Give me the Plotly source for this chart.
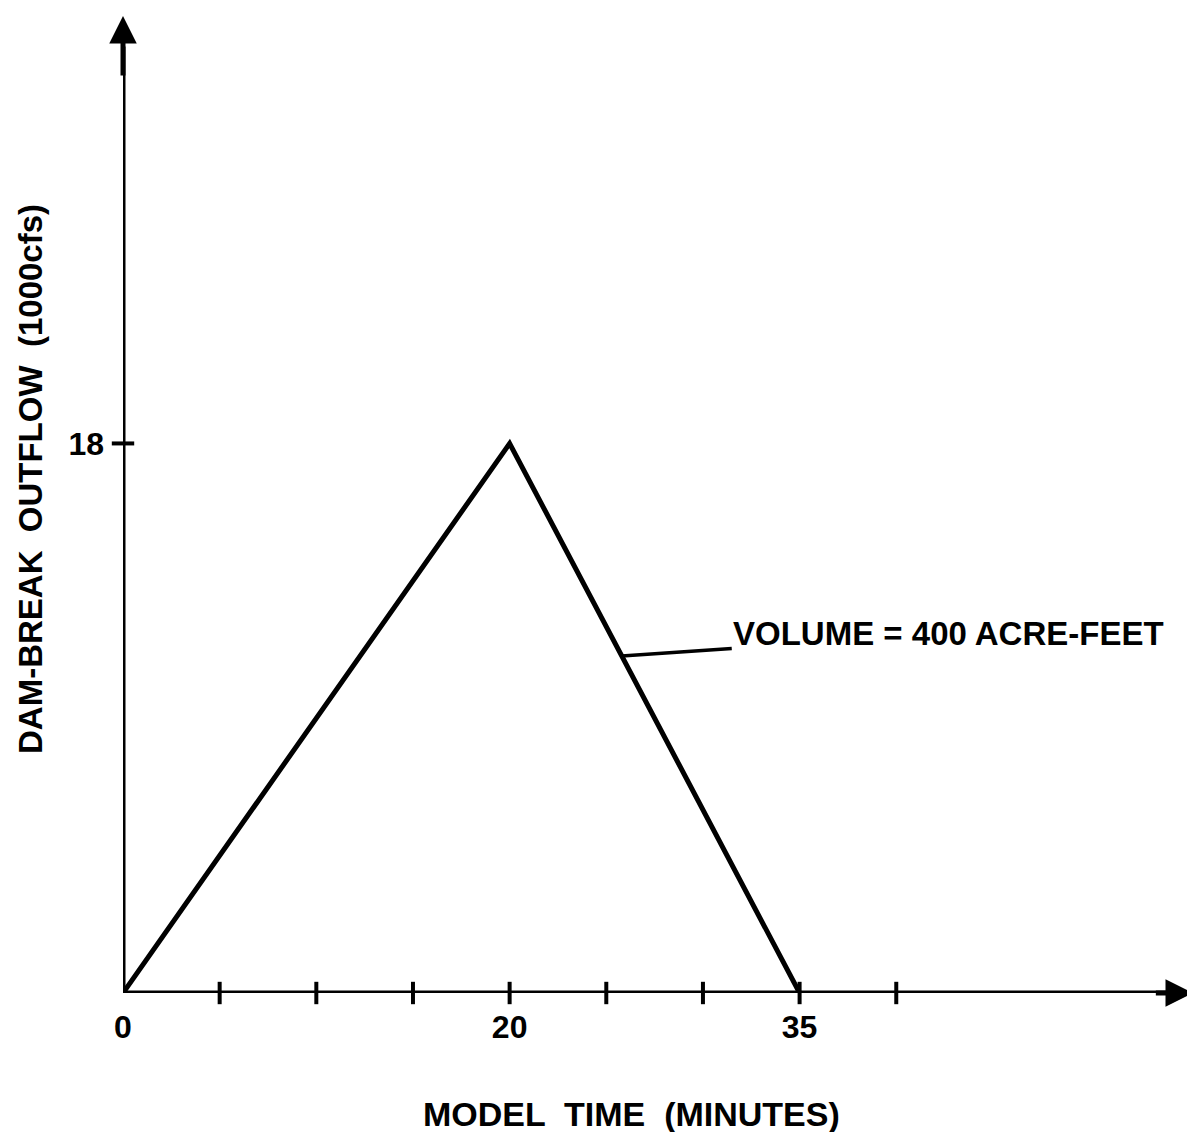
import plotly.graph_objects as go

# ---- data ----
time_min = [0, 20, 35]            # model time (minutes)
outflow_kcfs = [0, 18, 0]         # dam-break outflow (1000 cfs)
x_tick_vals = [0, 20, 35]
x_tick_text = ["0", "20", "35"]
x_minor_ticks = [5, 10, 15, 20, 25, 30, 35, 40]
y_tick_vals = [18]
y_tick_text = ["18"]
x_axis_end = 55.35
y_axis_end = 32.0
annotation_text = "VOLUME = 400 ACRE-FEET"
annotation_point = (25.8, 18 * (35 - 25.8) / 15)

FONT = "Liberation Sans, Arial, sans-serif"
BLACK = "#000000"

fig = go.Figure()

# axes drawn as lines in data space
fig.add_trace(go.Scatter(x=[0, x_axis_end - 1.0], y=[0, 0], mode="lines",
                         line=dict(color=BLACK, width=5), cliponaxis=False,
                         hoverinfo="skip", showlegend=False))
fig.add_trace(go.Scatter(x=[0, 0], y=[0, y_axis_end - 1.0], mode="lines",
                         line=dict(color=BLACK, width=5), cliponaxis=False,
                         hoverinfo="skip", showlegend=False))

# tick marks crossing the axes
fig.add_trace(go.Scatter(x=x_minor_ticks, y=[0] * len(x_minor_ticks), mode="markers",
                         marker=dict(symbol="line-ns-open", size=16, color=BLACK,
                                     line=dict(color=BLACK, width=4)),
                         cliponaxis=False, hoverinfo="skip", showlegend=False))
fig.add_trace(go.Scatter(x=[0] * len(y_tick_vals), y=y_tick_vals, mode="markers",
                         marker=dict(symbol="line-ew-open", size=16, color=BLACK,
                                     line=dict(color=BLACK, width=4)),
                         cliponaxis=False, hoverinfo="skip", showlegend=False))

# hydrograph
fig.add_trace(go.Scatter(x=time_min, y=outflow_kcfs, mode="lines",
                         line=dict(color=BLACK, width=5), cliponaxis=False,
                         hoverinfo="skip", showlegend=False))

annotations = [
    # arrowheads
    dict(x=0, y=y_axis_end, ax=0, ay=y_axis_end - 2, xref="x", yref="y",
         axref="x", ayref="y", showarrow=True, arrowhead=2, arrowsize=1.1,
         arrowwidth=5, arrowcolor=BLACK, text=""),
    dict(x=x_axis_end, y=0, ax=x_axis_end - 2, ay=0, xref="x", yref="y",
         axref="x", ayref="y", showarrow=True, arrowhead=2, arrowsize=1.1,
         arrowwidth=5, arrowcolor=BLACK, text=""),
    # volume label with leader
    dict(x=annotation_point[0], y=annotation_point[1], xref="x", yref="y",
         ax=327, ay=-22, showarrow=True, arrowhead=0, arrowwidth=3.5,
         arrowcolor=BLACK, text=annotation_text,
         font=dict(family=FONT, size=33, color=BLACK, weight="bold")),
    # axis titles
    dict(x=0.475, y=-0.124, xref="paper", yref="paper", showarrow=False,
         text="MODEL  TIME  (MINUTES)", xanchor="center", yanchor="middle",
         font=dict(family=FONT, size=34, color=BLACK, weight="bold")),
    dict(x=-0.087, y=0.526, xref="paper", yref="paper", showarrow=False,
         text="DAM-BREAK  OUTFLOW  (1000cfs)", textangle=-90,
         xanchor="center", yanchor="middle",
         font=dict(family=FONT, size=33, color=BLACK, weight="bold")),
]

fig.update_layout(
    width=1187, height=1124, autosize=False,
    margin=dict(l=115, r=2, t=8, b=139),
    paper_bgcolor="white", plot_bgcolor="white",
    annotations=annotations,
    xaxis=dict(range=[0, x_axis_end], showgrid=False, zeroline=False, showline=False,
               tickvals=x_tick_vals, ticktext=x_tick_text, ticks="",
               ticklabelstandoff=12, automargin=False,
               tickfont=dict(family=FONT, size=32, color=BLACK, weight="bold")),
    yaxis=dict(range=[0, y_axis_end], showgrid=False, zeroline=False, showline=False,
               tickvals=y_tick_vals, ticktext=y_tick_text, ticks="",
               ticklabelstandoff=18, automargin=False,
               tickfont=dict(family=FONT, size=32, color=BLACK, weight="bold")),
)

fig.write_html("out.html")
